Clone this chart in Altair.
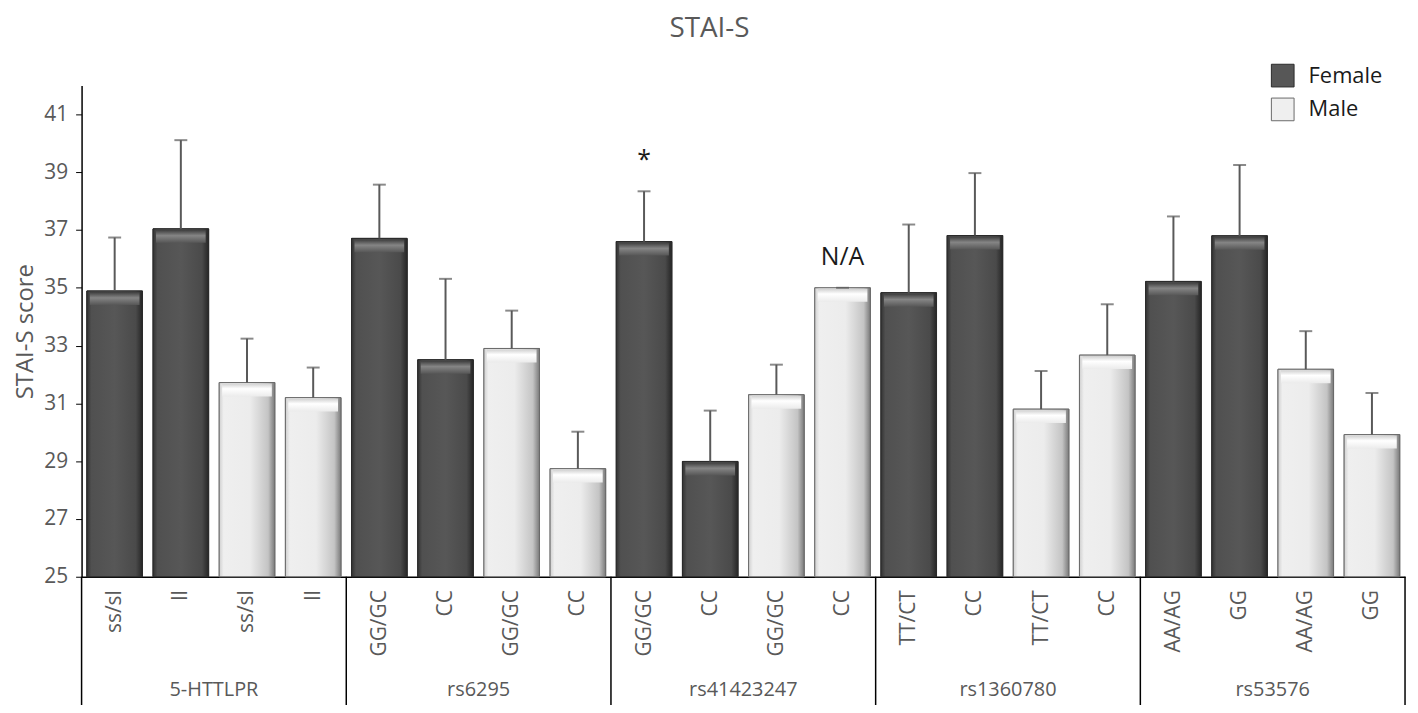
import json
import altair as alt
import pandas as pd

groups = ["5-HTTLPR", "rs6295", "rs41423247", "rs1360780", "rs53576"]
genotypes = ["ss/sl", "ll", "ss/sl", "ll",
             "GG/GC", "CC", "GG/GC", "CC",
             "GG/GC", "CC", "GG/GC", "CC",
             "TT/CT", "CC", "TT/CT", "CC",
             "AA/AG", "GG", "AA/AG", "GG"]
sexes = ["Female", "Female", "Male", "Male"] * 5
means = [34.89, 37.04, 31.72, 31.20,
         36.71, 32.51, 32.90, 28.74,
         36.60, 28.99, 31.30, 35.00,
         34.83, 36.81, 30.80, 32.67,
         35.22, 36.80, 32.18, 29.92]
err_top = [36.74, 40.11, 33.24, 32.24,
           38.57, 35.31, 34.21, 30.02,
           38.34, 30.75, 32.34, 35.00,
           37.19, 38.97, 32.12, 34.43,
           37.47, 39.25, 33.50, 31.36]
annotations = {8: "*", 11: "N/A"}

W, H = 1331, 494
PAD_BOTTOM = 127
FONT = "Open Sans"
GREY = "#595959"

n_per = len(genotypes) // len(groups)
rows = []
for i, (g, s, m, e) in enumerate(zip(genotypes, sexes, means, err_top)):
    rows.append({"idx": i, "left": i + 0.08, "right": i + 0.92, "center": i + 0.5,
                 "genotype": g, "sex": s, "mean": m, "err": e,
                 "group": groups[i // n_per], "note": annotations.get(i, "")})
df = pd.DataFrame(rows)

grp_df = pd.DataFrame({"group": groups,
                       "gcenter": [k * n_per + n_per / 2 for k in range(len(groups))]})
sep_df = pd.DataFrame({"b": [k * n_per for k in range(len(groups) + 1)]})
note_df = df[df["note"] != ""]

xscale = alt.Scale(domain=[0, len(genotypes)], nice=False, zero=False)
yscale = alt.Scale(domain=[25, 42], nice=False, zero=False)

label_expr = "%s[floor(datum.value)]" % json.dumps(genotypes)

base = alt.Chart(df)

bars = base.mark_bar(strokeWidth=1).encode(
    x=alt.X("left:Q", scale=xscale,
            axis=alt.Axis(values=[r + 0.5 for r in range(len(genotypes))],
                          labelExpr=label_expr, labelAngle=270, ticks=False,
                          labelFontSize=21, labelColor=GREY, labelFont=FONT,
                          labelPadding=13, domainColor="#000", domainWidth=1.5,
                          title=None, grid=False)),
    x2="right:Q",
    y=alt.Y("mean:Q", scale=yscale,
            axis=alt.Axis(values=list(range(25, 42, 2)), title="STAI-S score",
                          titleFontSize=24, titleColor=GREY, titleFont=FONT,
                          titleFontWeight="normal", titlePadding=6,
                          labelFontSize=21, labelColor=GREY, labelFont=FONT,
                          labelPadding=8, tickSize=6, tickColor="#000",
                          domainColor="#000", domainWidth=1.5, grid=False)),
    y2=alt.datum(25),
    color=alt.Color("sex:N",
                    scale=alt.Scale(domain=["Female", "Male"], range=["#575757", "#efefef"]),
                    legend=alt.Legend(title=None, orient="none", legendX=1196, legendY=-22,
                                      symbolType="square", symbolSize=520,
                                      symbolStrokeColor="#aaaaaa", symbolStrokeWidth=1,
                                      labelFontSize=22, labelFont=FONT, labelColor="#1a1a1a",
                                      rowPadding=6, labelOffset=14, padding=0)),
    stroke=alt.Stroke("sex:N", scale=alt.Scale(domain=["Female", "Male"],
                                               range=["#2a2a2a", "#6a6a6a"]), legend=None),
)


def hgrad(stops):
    return alt.Gradient(gradient="linear", x1=0, x2=1, y1=0, y2=0,
                        stops=[alt.GradientStop(offset=o, color=c) for o, c in stops])


def vgrad(stops):
    return alt.Gradient(gradient="linear", x1=0, x2=0, y1=0, y2=1,
                        stops=[alt.GradientStop(offset=o, color=c) for o, c in stops])


fem_grad = hgrad([(0, "#333333"), (0.08, "#505050"), (0.5, "#575757"),
                  (0.88, "#4a4a4a"), (1, "#262626")])
male_grad = hgrad([(0, "#cfcfcf"), (0.08, "#efefef"), (0.55, "#ececec"),
                   (0.88, "#c4c4c4"), (1, "#7a7a7a")])

shade_f = base.transform_filter("datum.sex == 'Female'").mark_bar(
    color=fem_grad, stroke="#2a2a2a", strokeWidth=1).encode(
    x=alt.X("left:Q", scale=xscale), x2="right:Q",
    y=alt.Y("mean:Q", scale=yscale), y2=alt.datum(25))
shade_m = base.transform_filter("datum.sex == 'Male'").mark_bar(
    color=male_grad, stroke="#6a6a6a", strokeWidth=1).encode(
    x=alt.X("left:Q", scale=xscale), x2="right:Q",
    y=alt.Y("mean:Q", scale=yscale), y2=alt.datum(25))

bevel_f = base.transform_filter("datum.sex == 'Female'").mark_bar(
    color=vgrad([(0, "#3c3c3c"), (0.45, "#858585"), (1, "#575757")]),
    x2Offset=-3, xOffset=3, y2Offset=14, yOffset=1).encode(
    x=alt.X("left:Q", scale=xscale), x2="right:Q",
    y=alt.Y("mean:Q", scale=yscale), y2="mean:Q")
bevel_m = base.transform_filter("datum.sex == 'Male'").mark_bar(
    color=vgrad([(0, "#d0d0d0"), (0.4, "#ffffff"), (1, "#ebebeb")]),
    x2Offset=-3, xOffset=3, y2Offset=14, yOffset=1).encode(
    x=alt.X("left:Q", scale=xscale), x2="right:Q",
    y=alt.Y("mean:Q", scale=yscale), y2="mean:Q")

err_line = base.mark_rule(color=GREY, strokeWidth=2).encode(
    x=alt.X("center:Q", scale=xscale),
    y=alt.Y("mean:Q", scale=yscale), y2="err:Q")
err_cap = base.mark_tick(color=GREY, thickness=2, size=13, orient="horizontal").encode(
    x=alt.X("center:Q", scale=xscale), y=alt.Y("err:Q", scale=yscale))

notes = alt.Chart(note_df).mark_text(fontSize=25, font=FONT, color="#1a1a1a",
                                     baseline="middle", dy=-31).encode(
    x=alt.X("center:Q", scale=xscale), y=alt.Y("err:Q", scale=yscale), text="note:N")

seps = alt.Chart(sep_df).mark_rule(color="#000", strokeWidth=1.5).encode(
    x=alt.X("b:Q", scale=xscale), y=alt.value(H), y2=alt.value(H + 135))

glabels = alt.Chart(grp_df).mark_text(fontSize=20, font=FONT, color=GREY,
                                      baseline="middle").encode(
    x=alt.X("gcenter:Q", scale=xscale), y=alt.value(H + 114), text="group:N")

chart = alt.layer(bars, shade_f, shade_m, bevel_f, bevel_m, err_line, err_cap,
                  notes, seps, glabels).properties(
    width=W, height=H,
    title=alt.TitleParams("STAI-S", fontSize=28, font=FONT, color=GREY,
                          fontWeight="normal", anchor="middle", frame="group",
                          dx=-34, offset=21),
    autosize=alt.AutoSizeParams(type="none"),
    padding={"left": 74, "top": 76, "right": 5, "bottom": PAD_BOTTOM},
).configure_view(stroke=None)

chart.save("out.html", embed_options={"renderer": "svg", "actions": False})
